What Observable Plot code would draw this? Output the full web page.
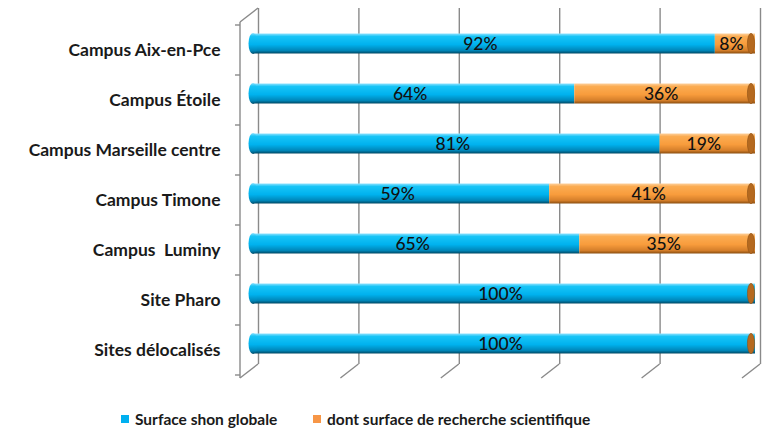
<!DOCTYPE html>
<html>
<head>
<meta charset="utf-8">
<script src="https://cdn.jsdelivr.net/npm/d3@7"></script>
<script src="https://cdn.jsdelivr.net/npm/@observablehq/plot@0.6"></script>
<style>
  html, body { margin: 0; padding: 0; background: #fff; }
  #wrap { position: relative; width: 763px; height: 430px; font-family: Lato, "Open Sans", sans-serif; }
  #legend { position: absolute; left: 0; top: 400px; width: 763px; height: 30px; font-size: 15.5px; font-weight: 700; color: #1a1a1a; }
  .lg { position: absolute; top: 10px; display: flex; align-items: center; white-space: nowrap; }
  .sw { width: 8px; height: 8px; margin-right: 6px; }
</style>
</head>
<body>
<svg width="0" height="0" style="position:absolute">
  <defs>
    <linearGradient id="gBlue" x1="0" y1="0" x2="0" y2="1">
      <stop offset="0" stop-color="#8fe2ff"/>
      <stop offset="0.15" stop-color="#18c4f6"/>
      <stop offset="0.55" stop-color="#00b2ee"/>
      <stop offset="0.85" stop-color="#0086b8"/>
      <stop offset="1" stop-color="#004863"/>
    </linearGradient>
    <linearGradient id="gOrange" x1="0" y1="0" x2="0" y2="1">
      <stop offset="0" stop-color="#fdd09c"/>
      <stop offset="0.15" stop-color="#fbac52"/>
      <stop offset="0.55" stop-color="#f89c3c"/>
      <stop offset="0.85" stop-color="#d47e2a"/>
      <stop offset="1" stop-color="#8a4d10"/>
    </linearGradient>
  </defs>
</svg>
<div id="wrap">
  <div id="chart"></div>
  <div id="legend"></div>
</div>
<script>
const sites = ["Campus Aix-en-Pce", "Campus Étoile", "Campus Marseille centre", "Campus Timone", "Campus  Luminy", "Site Pharo", "Sites délocalisés"];
const globale = [92, 64, 81, 59, 65, 100, 100];
const recherche = [8, 36, 19, 41, 35, 0, 0];
const seriesNames = ["Surface shon globale", "dont surface de recherche scientifique"];
const seriesFills = ["url(#gBlue)", "url(#gOrange)"];
const legendColors = ["#00b0f0", "#f79646"];
const xTicks = [0, 20, 40, 60, 80, 100];

const long = [];
sites.forEach((s, i) => {
  long.push({site: s, series: seriesNames[0], value: globale[i]});
  long.push({site: s, series: seriesNames[1], value: recherche[i]});
});
const shown = long.filter(d => d.value > 0);

const DX = 9, DY = -6.5;     // bar depth offset
const BX = 18, BY = -14;     // back wall offset
const gridColor = "#8a8a8a";

function frame(index, scales, values, dims) {
  const x = scales.x, y = scales.y;
  const top = dims.marginTop, bottom = dims.height - dims.marginBottom;
  const g = d3.create("svg:g").attr("stroke", gridColor).attr("stroke-width", 1.4).attr("fill", "none");
  for (const t of xTicks) {
    g.append("line").attr("x1", x(t)).attr("y1", bottom).attr("x2", x(t) + BX).attr("y2", bottom + BY);
  }
  g.append("line").attr("x1", x(0)).attr("y1", top).attr("x2", x(0)).attr("y2", bottom);
  g.append("line").attr("x1", x(0)).attr("y1", top).attr("x2", x(0) + BX).attr("y2", top + BY);
  const bw = y.bandwidth();
  const bounds = sites.map(s => y(s)).concat([y(sites[sites.length - 1]) + bw]);
  for (const b of bounds) {
    g.append("line").attr("x1", x(0) - 5).attr("y1", b).attr("x2", x(0)).attr("y2", b);
  }
  return g.node();
}

function caps(index, scales, values, dims) {
  const x = scales.x, y = scales.y;
  const bw = y.bandwidth();
  const h = 21;
  const g = d3.create("svg:g");
  sites.forEach((s, i) => {
    const cy = y(s) + bw / 2 + DY;
    g.append("ellipse").attr("cx", x(0) + DX + 4).attr("cy", cy).attr("rx", 4.5).attr("ry", h / 2)
      .attr("fill", "url(#gBlue)");
    g.append("ellipse").attr("cx", x(100) + DX).attr("cy", cy).attr("rx", 3.6).attr("ry", h / 2 - 0.3)
      .attr("fill", "#b5691f").attr("stroke", "#8f5014").attr("stroke-width", 0.6);
  });
  return g.node();
}

const chart = Plot.plot({
  width: 763,
  height: 400,
  marginLeft: 240,
  marginRight: 21,
  marginTop: 22,
  marginBottom: 22,
  style: {fontFamily: "Lato, 'Open Sans', sans-serif", background: "transparent"},
  x: {domain: [0, 100], axis: null},
  y: {domain: sites, padding: 0, axis: null},
  color: {domain: seriesNames, range: seriesFills},
  marks: [
    Plot.ruleX(xTicks, {x: d => d, dx: BX, dy: BY, stroke: gridColor, strokeWidth: 1.4}),
    frame,
    Plot.barX(long, {x: "value", y: "site", fill: "series", dx: DX + 4, dy: DY, insetTop: 15, insetBottom: 15}),
    caps,
    Plot.text(shown, Plot.stackX({x: "value", y: "site", z: "series", text: d => d.value + "%", dx: DX, dy: DY, fill: "#111", fontSize: 17.5, fontWeight: 500})),
    Plot.text(sites, {x: 0, y: d => d, text: d => d, textAnchor: "end", dx: -20, fontSize: 17.5, fontWeight: 700, fill: "#1a1a1a"})
  ]
});
document.getElementById("chart").appendChild(chart);

const legend = document.getElementById("legend");
const lpos = [121, 313];
seriesNames.forEach((n, i) => {
  const d = document.createElement("div");
  d.className = "lg";
  d.style.left = lpos[i] + "px";
  d.innerHTML = `<span class="sw" style="background:${legendColors[i]}"></span><span>${n}</span>`;
  legend.appendChild(d);
});
</script>
</body>
</html>
